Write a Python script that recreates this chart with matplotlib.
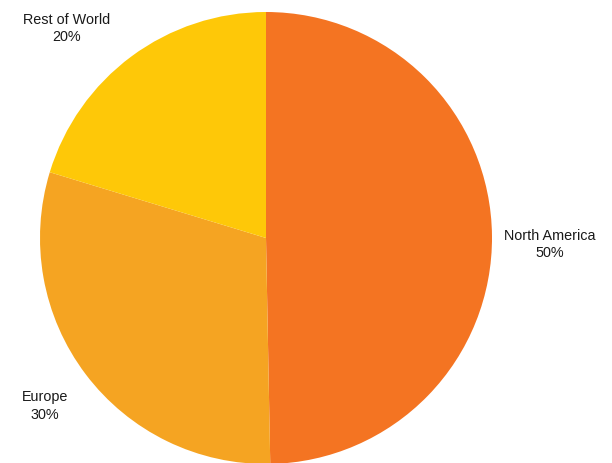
import numpy as np
import matplotlib
matplotlib.use("Agg")
import matplotlib.pyplot as plt

categories = ["North America", "Europe", "Rest of World"]
values = [49.7, 30.0, 20.3]
pct_labels = ["50%", "30%", "20%"]
colors = ["#F47422", "#F5A422", "#FEC808"]

# label placement: radial distance plus small per-label nudge (radius units)
label_dist = 1.2
label_nudge = [(0.057, -0.035), (-0.02, -0.015), (-0.167, -0.033)]

plt.rcParams['font.family'] = ['Liberation Sans', 'DejaVu Sans']

fig = plt.figure(figsize=(6.12, 4.64), dpi=100)
ax = fig.add_axes([40/612, (464-465)/464, 452/612, 452/464])
wedges, _ = ax.pie(values, colors=colors, startangle=90, counterclock=False,
                   radius=1.0, wedgeprops=dict(linewidth=0))
ax.set_xlim(-1, 1)
ax.set_ylim(-1, 1)
ax.set_aspect('equal')
ax.axis('off')

for w, cat, pct, (nx, ny) in zip(wedges, categories, pct_labels, label_nudge):
    mid = np.deg2rad((w.theta1 + w.theta2) / 2)
    x, y = label_dist * np.cos(mid) + nx, label_dist * np.sin(mid) + ny
    ax.text(x, y, f"{cat}\n{pct}", ha="center", va="center", fontsize=10.4,
            color="#1a1a1a", linespacing=1.3, clip_on=False)

fig.savefig("out.png", dpi=100)
